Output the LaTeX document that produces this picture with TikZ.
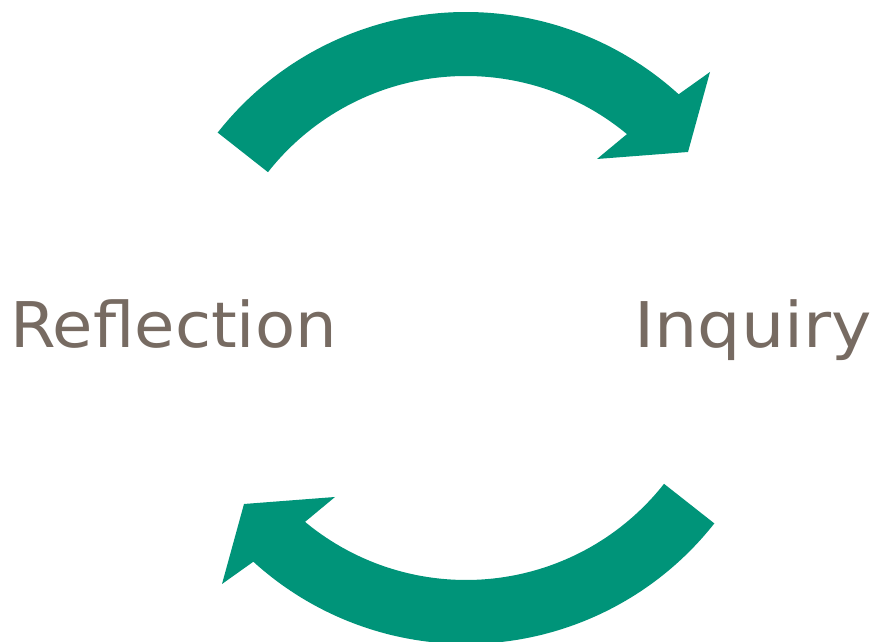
\documentclass[tikz,border=0pt]{standalone}
\usepackage{fontspec}
\setmainfont{DejaVu Sans}
\definecolor{arrowgreen}{HTML}{009479}
\definecolor{labelgray}{HTML}{776B62}
\begin{document}
\begin{tikzpicture}[x=1pt,y=1pt,
  cyclearrow/.style={fill=arrowgreen},
  cyclelabel/.style={text=labelgray,inner sep=0pt,font=\fontsize{63}{75}\selectfont}]
\useasboundingbox (0,0) rectangle (873,642);
\coordinate (C) at (466,314);
\newcommand{\arrowshape}{%
  (141.8:316) arc[start angle=141.8, end angle=47.7, radius=316]
  -- (244,256) -- (222,176) -- (131,169) -- (50.3:252)
  arc[start angle=50.3, end angle=141.8, radius=252] -- cycle}
\begin{scope}[shift={(C)}]
  \fill[cyclearrow] \arrowshape;
\end{scope}
\begin{scope}[shift={(C)},rotate=180]
  \fill[cyclearrow] \arrowshape;
\end{scope}
\node[cyclelabel,anchor=base west] (reflection) at (10,294) {\scalebox{1.042}[1]{Reflection}};
\node[cyclelabel,anchor=base west] (inquiry) at (634,294) {\scalebox{1.084}[1]{Inquiry}};
\end{tikzpicture}
\end{document}
